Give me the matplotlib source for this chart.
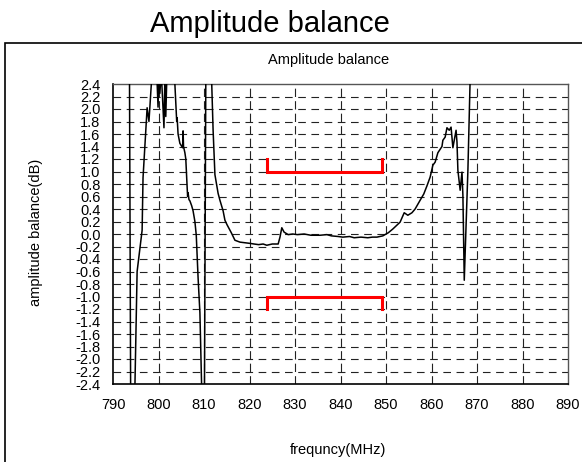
import matplotlib
matplotlib.use("Agg")
import matplotlib.pyplot as plt
from matplotlib.patches import Rectangle

plt.rcParams['font.family'] = ['Liberation Sans', 'DejaVu Sans']
plt.rcParams['lines.scale_dashes'] = False

freq = [793.6, 793.9, 794.7, 794.8, 795.3, 796.4, 796.6, 797.5, 797.9, 798.6,
        799.5, 799.9, 800.1, 800.3, 800.6, 801.2, 801.4, 801.6, 801.9, 803.0,
        803.6, 804.0, 804.1, 804.3, 804.7, 805.3, 805.4, 805.5, 805.8, 806.0,
        806.3, 806.4, 806.5, 806.7, 806.9, 807.3, 807.6, 808.0, 808.3, 808.7,
        809.1, 809.5, 810.0, 810.1, 810.4, 811.0, 811.7, 812.0, 812.4, 813.1,
        813.5, 814.2, 814.6, 815.05, 816.0, 816.8, 817.9, 819.0, 820.1, 821.0,
        822.0, 823.0, 823.8, 825.0, 826.3, 826.7, 827.1, 827.6, 828.5, 829.5,
        830.5, 832.0, 833.5, 835.5, 837.0, 838.0, 839.5, 840.5, 842.0, 843.0,
        844.5, 846.0, 847.0, 848.0, 849.3, 850.5, 851.5, 853.1, 854.0, 854.8,
        855.7, 856.4, 857.5, 858.3, 859.0, 859.7, 860.3, 860.8, 861.4, 862.3,
        862.5, 863.0, 863.4, 863.9, 864.3, 864.7, 865.4, 865.6, 865.8, 866.3,
        866.7, 866.9, 867.2, 868.0, 868.5, 868.7]
balance = [3.0, -3.0, -3.0, -2.5, -0.6, 0.06, 0.9, 2.02, 1.8, 2.6,
           2.8, 2.03, 2.6, 2.25, 2.6, 1.7, 2.5, 1.88, 2.7, 2.8,
           2.4, 1.8, 1.86, 1.6, 1.45, 1.38, 1.65, 1.4, 1.3, 1.2,
           0.74, 0.6, 0.66, 0.55, 0.53, 0.45, 0.37, 0.2, -0.02, -0.7,
           -1.26, -2.5, -3.0, -2.5, 2.5, 3.0, 2.4, 1.66, 0.95, 0.65,
           0.54, 0.37, 0.22, 0.15, 0.02, -0.1, -0.13, -0.14, -0.15, -0.16,
           -0.17, -0.16, -0.18, -0.16, -0.16, -0.05, 0.1, 0.03, -0.01, 0.0,
           -0.01, 0.0, -0.02, -0.02, -0.01, -0.03, -0.04, -0.05, -0.04, -0.06,
           -0.05, -0.06, -0.05, -0.05, -0.03, 0.02, 0.08, 0.19, 0.34, 0.30,
           0.34, 0.4, 0.54, 0.64, 0.77, 0.91, 1.1, 1.15, 1.3, 1.4,
           1.5, 1.55, 1.7, 1.66, 1.71, 1.38, 1.66, 1.47, 1.02, 0.7,
           0.99, 0.62, -0.74, 1.02, 2.5, 3.0]

spec_x = [823.8, 849.2]
spec_upper = 1.0
spec_lower = -1.0
spec_tick = 0.2

yticks = [-2.4, -2.2, -2.0, -1.8, -1.6, -1.4, -1.2, -1.0, -0.8, -0.6, -0.4, -0.2,
          0.0, 0.2, 0.4, 0.6, 0.8, 1.0, 1.2, 1.4, 1.6, 1.8, 2.0, 2.2, 2.4]
ytick_labels = ['-2.4', '-2.2', '-2.0', '-1.8', '-1.6', '-1.4', '-1.2', '-1.0', '-0.8',
                '-0.6', '-0.4', '-0.2', '0.0', '0.2', '0.4', '0.6', '0.8', '1.0', '1.2',
                '1.4', '1.6', '1.8', '2.0', '2.2', '2.4']
xticks = [790, 800, 810, 820, 830, 840, 850, 860, 870, 880, 890]

W, H = 582, 462
fig = plt.figure(figsize=(W / 100, H / 100), dpi=100)

# outer frame
fig.patches.append(Rectangle((5 / W, -0.1), 1.2, 1 - 43 / H + 0.1, transform=fig.transFigure,
                             fill=False, edgecolor='black', linewidth=1.2))
fig.text(270 / W, 1 - 24 / H, 'Amplitude balance', ha='center', va='center', fontsize=21)
fig.text(329 / W, 1 - 60 / H, 'Amplitude balance', ha='center', va='center', fontsize=10.5)

ax = fig.add_axes([113 / W, 1 - 384 / H, (568 - 113) / W, (384 - 84) / H])
ax.set_xlim(790, 890)
ax.set_ylim(-2.4, 2.4)

for v in xticks[1:-1]:
    ax.axvline(v, color='#222222', lw=0.8, linestyle=(0, (6, 3)), zorder=1)
for v in yticks[1:-1]:
    ax.axhline(v, color='#222222', lw=0.8, linestyle=(0, (5.5, 4)), zorder=1)

ax.plot(freq, balance, color='black', lw=1.1, zorder=3)

# spec brackets
ax.plot([spec_x[0], spec_x[0], spec_x[1], spec_x[1]],
        [spec_upper + spec_tick, spec_upper, spec_upper, spec_upper + spec_tick],
        color='red', lw=2.2, solid_joinstyle='miter', zorder=4)
ax.plot([spec_x[0], spec_x[0], spec_x[1], spec_x[1]],
        [spec_lower - spec_tick, spec_lower, spec_lower, spec_lower - spec_tick],
        color='red', lw=2.2, solid_joinstyle='miter', zorder=4)

ax.set_xticks(xticks)
ax.set_yticks(yticks)
ax.set_yticklabels(ytick_labels)
ax.tick_params(length=0, labelsize=10.5)
ax.tick_params(axis='y', pad=9)
ax.tick_params(axis='x', pad=10)
for s in ['left', 'bottom']:
    ax.spines[s].set_color('black')
    ax.spines[s].set_linewidth(1.2)
for s in ['top', 'right']:
    ax.spines[s].set_color('#555555')
    ax.spines[s].set_linewidth(1.0)

fig.text(338 / W, 1 - 450 / H, 'frequncy(MHz)', ha='center', va='center', fontsize=10.5)
fig.text(36 / W, 1 - 232 / H, 'amplitude balance(dB)', ha='center', va='center',
         rotation=90, fontsize=10.5)

fig.savefig('out.png', dpi=100)
